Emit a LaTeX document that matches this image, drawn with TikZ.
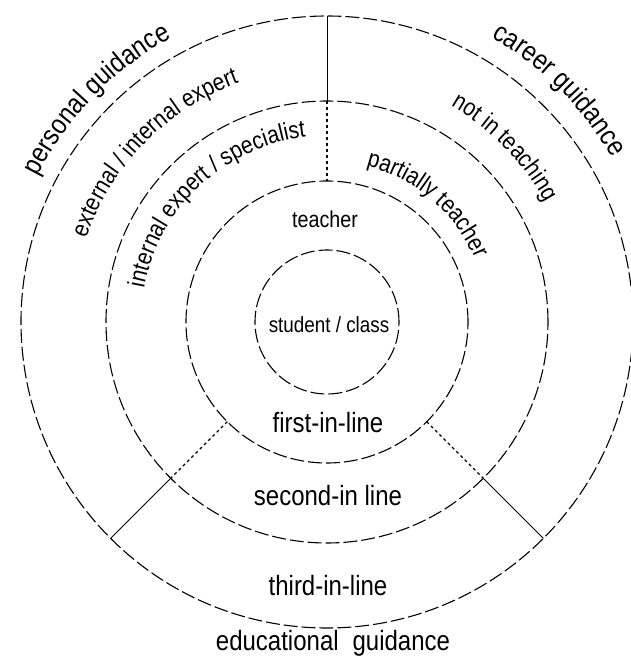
\documentclass[tikz,border=0pt]{standalone}
\usepackage{fontspec}
\setmainfont{Liberation Sans}[FakeStretch=0.86]
\usetikzlibrary{decorations.text}

\tikzset{
  ring/.style={line width=1.1pt,dash pattern=on 14pt off 4pt},
  divider/.style={line width=1pt},
  dotdivider/.style={line width=1.2pt,dash pattern=on 3pt off 3pt},
  bigtext/.style={font=\fontsize{28}{32}\selectfont,anchor=base,inner sep=0pt},
  midtext/.style={font=\fontsize{23}{27}\selectfont,anchor=base,inner sep=0pt},
  arctext/.style={decorate,decoration={text along path,text align=center,text={#1}}}
}

\begin{document}
\begin{tikzpicture}[x=1bp,y=1bp]
\useasboundingbox (-327,-344) rectangle (304,322);

%centre and circles
\coordinate (c) at (0,0);
\draw[ring] (c) circle (72);
\draw[ring] (c) circle (141);
\draw[ring] (c) circle (221);
\draw[ring] (c) circle (306);

%dividers
\path (c) -- +(90:306) coordinate (n4);
\path (c) -- +(90:221) coordinate (n3);
\path (c) -- +(90:141) coordinate (n2);
\path (c) -- +(225:141) coordinate (sw2);
\path (c) -- +(225:221) coordinate (sw3);
\path (c) -- +(225:306) coordinate (sw4);
\path (c) -- +(-45:141) coordinate (se2);
\path (c) -- +(-45:221) coordinate (se3);
\path (c) -- +(-45:306) coordinate (se4);

\draw[divider] (n4) -- (n3);
\draw[dotdivider] (n3) -- (n2);
\draw[dotdivider] (sw2) -- (sw3);
\draw[divider] (sw3) -- (sw4);
\draw[dotdivider] (se2) -- (se3);
\draw[divider] (se3) -- (se4);

%straight labels
\node[midtext,font=\fontsize{22}{26}\selectfont] (student) at (2,-11) {student / class};
\node[midtext] (teacher) at (-2,94) {teacher};
\node[bigtext] (first) at (1,-110) {first-in-line};
\node[bigtext] (second) at (1,-183) {second-in line};
\node[bigtext] (third) at (1,-273) {third-in-line};
\node[bigtext] (educ) at (6,-328) {educational\enspace guidance};

%curved labels
\path[arctext={|\fontsize{28}{32}\selectfont|personal guidance}] (176:324) arc (176:96:324);
\path[arctext={|\fontsize{28}{32}\selectfont|career guidance}] (85:329) arc (85:5:329);
\path[arctext={|\fontsize{24.5}{28}\selectfont|external / internal expert}] (175:255) arc (175:96:255);
\path[arctext={|\fontsize{24.5}{28}\selectfont|internal expert / specialist}] (178:186) arc (178:88:186);
\path[arctext={|\fontsize{24.5}{28}\selectfont|not in teaching}] (84:249) arc (84:5:249);
\path[arctext={|\fontsize{24.5}{28}\selectfont|partially teacher}] (89:161) arc (89:10:161);
\end{tikzpicture}
\end{document}
